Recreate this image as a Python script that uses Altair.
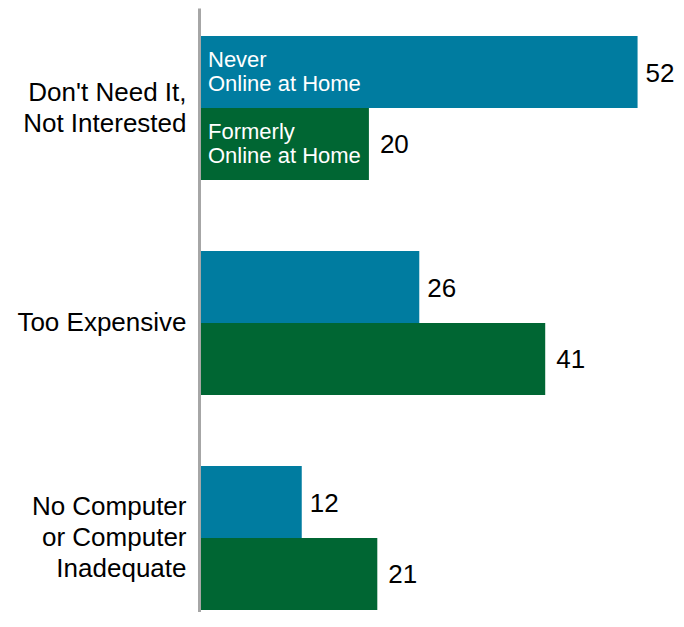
import altair as alt
import pandas as pd

categories = ["Don't Need It,|Not Interested", "Too Expensive", "No Computer|or Computer|Inadequate"]
series = ["Never Online at Home", "Formerly Online at Home"]
never_values = [52, 26, 12]
formerly_values = [20, 41, 21]
inbar_labels = ["Never\nOnline at Home", "Formerly\nOnline at Home"]
colors = ["#007CA0", "#006633"]

rows = []
for i, c in enumerate(categories):
    rows.append({"reason": c, "group": series[0], "value": never_values[i]})
    rows.append({"reason": c, "group": series[1], "value": formerly_values[i]})
df = pd.DataFrame(rows)
ann = pd.DataFrame({"reason": [categories[0]] * 2, "group": series, "label": inbar_labels})

FONT = "Liberation Sans"
LH = 31

label_offset = {
    "condition": [
        {"test": "length(split(datum.value, '|')) == 3", "value": -LH},
        {"test": "length(split(datum.value, '|')) == 2", "value": -LH / 2},
    ],
    "value": 0,
}

y = alt.Y(
    "reason:N",
    sort=categories,
    scale=alt.Scale(paddingInner=0.3302, paddingOuter=0.0698, align=0.933),
    axis=alt.Axis(
        title=None, domainColor="#A6A6A6", domainWidth=3, ticks=False, tickSize=0,
        labelPadding=13, offset=2, labelFont=FONT, labelFontSize=26, labelColor="#000000",
        labelLineHeight=LH, labelExpr="split(datum.label, '|')", labelLimit=0, grid=False,
        labelOffset=label_offset,
    ),
)
yoff = alt.YOffset("group:N", sort=series, scale=alt.Scale(paddingInner=0, paddingOuter=0))
x = alt.X("value:Q", scale=alt.Scale(domain=[0, 53.6]), axis=None)
color = alt.Color("group:N", sort=series, scale=alt.Scale(domain=series, range=colors), legend=None)

base = alt.Chart(df)
bars = base.mark_bar().encode(x=x, y=y, yOffset=yoff, color=color)

lab_never = base.transform_filter(alt.datum.group == series[0]).mark_text(
    align="left", baseline="middle", dx=8, dy=2, font=FONT, fontSize=26, color="#000000"
).encode(x=x, y=y, yOffset=yoff, text="value:Q")
lab_former = base.transform_filter(alt.datum.group == series[1]).mark_text(
    align="left", baseline="middle", dx=11, dy=1, font=FONT, fontSize=26, color="#000000"
).encode(x=x, y=y, yOffset=yoff, text="value:Q")

inbar = alt.Chart(ann).mark_text(
    align="left", baseline="middle", dx=7, dy=-12, font=FONT, fontSize=22, color="#FFFFFF",
    lineBreak="\n", lineHeight=24,
).encode(x=alt.value(0), y=y, yOffset=yoff, text="label:N")

chart = alt.layer(bars, lab_never, lab_former, inbar).properties(
    width=450, height=604,
    autosize=alt.AutoSizeParams(type="none"),
    padding={"left": 193, "top": 0, "right": 24, "bottom": 0},
).configure_view(stroke=None)

chart.save("out.html", embed_options={"renderer": "svg", "actions": False})
